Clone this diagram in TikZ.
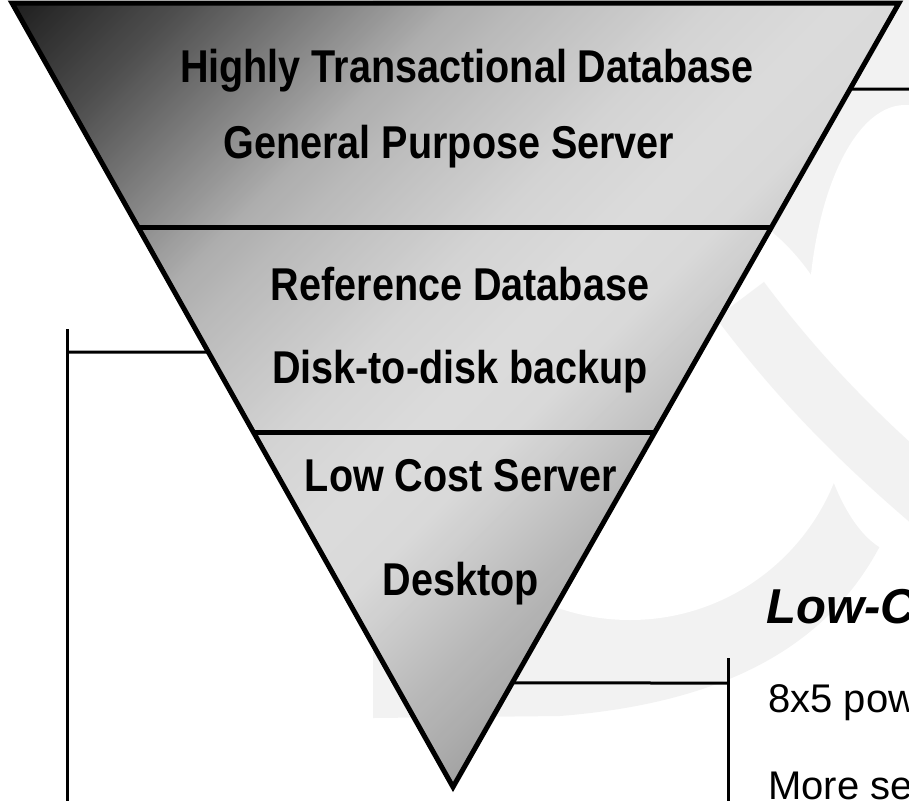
\documentclass[tikz,border=0pt]{standalone}
\usepackage{fontspec}
\setmainfont{Liberation Sans}
\newfontfamily\narrowfont[FakeStretch=0.86]{Liberation Sans}
\usetikzlibrary{calc}
\definecolor{wmgray}{HTML}{F2F2F2}
\begin{document}
\begin{tikzpicture}[x=1pt,y=-1pt,
  outline/.style={line width=5pt, line join=miter},
  conn/.style={line width=3pt},
  tier/.style={font=\narrowfont\bfseries\fontsize{46}{52}\selectfont, anchor=base, inner sep=0pt},
  side/.style={font=\fontsize{40}{46}\selectfont, anchor=base west, inner sep=0pt},
  sidehead/.style={font=\bfseries\itshape\fontsize{49}{55}\selectfont, anchor=base west, inner sep=0pt}]
\useasboundingbox (0,0) rectangle (909,801);
% faint watermark
\fill[wmgray] (373,0) -- (909,0) -- (909,470) .. controls (870,620) and (760,700) .. (560,716) -- (373,718) -- cycle;
\fill[white] (630,400) circle[radius=220pt];
\fill[white] (905,330) ellipse[x radius=97pt, y radius=225pt];
\draw[wmgray, line width=60pt] (740,300) .. controls (800,380) and (860,440) .. (930,500);
% triangle corners
\coordinate (TL) at (12,3);
\coordinate (TR) at (899,3);
\coordinate (AP) at (453,787);
% gradient fill
\begin{scope}
\clip (TL) -- (TR) -- (AP) -- cycle;
\foreach \sa/\ga/\sb/\gb in {0/10/190/31, 190/31/460/68, 460/68/530/73, 530/73/720/83, 720/83/850/86, 850/86/950/85, 950/85/1120/72, 1120/72/1200/67, 1200/67/1260/62} {
  \pgfmathtruncatemacro\sx{\sa+5}
  \pgfmathtruncatemacro\sl{\sb-5}
  \foreach \s in {\sa,\sx,...,\sl} {
    \pgfmathsetmacro\k{100-(\ga+(\gb-\ga)*(\s+2.5-\sa)/(\sb-\sa))}
    \fill[black!\k] ({(\s-0.5-1000)/2},{(\s-0.5+1000)/2}) -- ({(\s-0.5+1000)/2},{(\s-0.5-1000)/2}) -- ({(\s+5.5+1000)/2},{(\s+5.5-1000)/2}) -- ({(\s+5.5-1000)/2},{(\s+5.5+1000)/2}) -- cycle;
  }
}
\end{scope}
% band separators
\coordinate (S1l) at ($(TL)!0.2857!(AP)$);
\coordinate (S1r) at ($(TR)!0.2857!(AP)$);
\coordinate (S2l) at ($(TL)!0.5472!(AP)$);
\coordinate (S2r) at ($(TR)!0.5472!(AP)$);
\draw[outline] (S1l) -- (S1r);
\draw[outline] (S2l) -- (S2r);
\draw[outline] (TL) -- (TR) -- (AP) -- cycle;
% connectors
\coordinate (L1) at ($(TL)!0.4452!(AP)$);
\coordinate (LV) at (67,352);
\coordinate (LVt) at (67,329);
\coordinate (LVb) at (67,801);
\draw[conn] (L1) -- (LV);
\draw[conn] (LVt) -- (LVb);
\coordinate (R1) at ($(TR)!0.1097!(AP)$);
\coordinate (RE) at (909,89);
\draw[conn] (R1) -- (RE);
\coordinate (R2) at ($(TR)!0.8673!(AP)$);
\coordinate (RV) at (728,683);
\coordinate (RVt) at (728,658);
\coordinate (RVb) at (728,801);
\draw[conn] (R2) -- (RV);
\draw[conn] (RVt) -- (RVb);
% tier texts
\node[tier] (t1) at (467,82) {Highly Transactional Database};
\node[tier] (t2) at (449,158) {General Purpose Server};
\node[tier] (t3) at (460,300) {Reference Database};
\node[tier] (t4) at (460,383) {Disk-to-disk backup};
\node[tier] (t5) at (461,491) {Low Cost Server};
\node[tier] (t6) at (461,595) {Desktop};
% side texts
\node[sidehead] (h1) at (766,623) {Low-C};
\node[side] (p1) at (768,712) {8x5 pow};
\node[side] (p2) at (768,799) {More se};
\end{tikzpicture}
\end{document}
